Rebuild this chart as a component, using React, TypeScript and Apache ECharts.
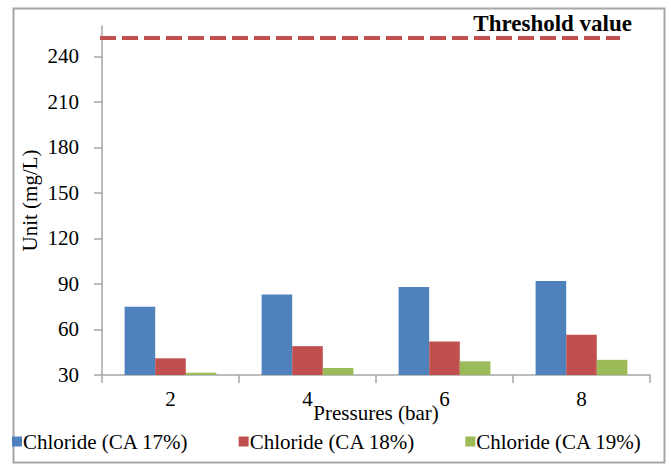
import React, { useEffect, useRef } from "react";
import * as echarts from "echarts";

// Pressure steps (bar) on the category axis
const pressures = ["2", "4", "6", "8"];

// Chloride concentration (mg/L) for each cellulose-acetate membrane
const chlorideCA17 = [75, 83, 88, 92];
const chlorideCA18 = [41, 49, 52, 56.5];
const chlorideCA19 = [31.5, 34.6, 39, 40];

const seriesNames = ["Chloride (CA 17%)", "Chloride (CA 18%)", "Chloride (CA 19%)"];
const seriesColors = ["#4F81BD", "#C0504D", "#9BBB59"];

// Permitted chloride limit (mg/L)
const thresholdValue = 252;
const thresholdLabel = "Threshold value";

// Value axis ticks
const yTicks = [30, 60, 90, 120, 150, 180, 210, 240];

const FONT = "'Liberation Serif', 'Times New Roman', serif";

export default function App() {
  const ref = useRef<HTMLDivElement>(null);

  useEffect(() => {
    if (!ref.current) return;
    const chart = echarts.init(ref.current, undefined, { renderer: "svg" });

    const seriesData = [chlorideCA17, chlorideCA18, chlorideCA19];

    const bars: any[] = seriesData.map((values, i) => ({
      name: seriesNames[i],
      type: "bar",
      data: values,
      barGap: "0%",
      barCategoryGap: "33%",
      itemStyle: { color: seriesColors[i] },
    }));

    // Dashed threshold line, drawn on the value scale
    bars[0].markLine = {
      silent: true,
      symbol: "none",
      label: { show: false },
      lineStyle: { color: "#C0504D", width: 4, type: [16, 6], opacity: 1 },
      emphasis: { disabled: true },
      data: [
        [
          { xAxis: pressures[0], yAxis: thresholdValue, x: 100 },
          { xAxis: pressures[0], yAxis: thresholdValue, x: 620 },
        ],
      ],
    };

    chart.setOption({
      animation: false,
      backgroundColor: "#ffffff",
      textStyle: { fontFamily: FONT },
      grid: { left: 102, right: 21, top: 26, bottom: 93 },
      legend: {
        data: seriesNames,
        left: 12,
        top: 431,
        padding: 0,
        icon: "rect",
        itemWidth: 10,
        itemHeight: 10,
        itemGap: 50,
        textStyle: { fontFamily: FONT, fontSize: 21, color: "#000", padding: [0, 0, 0, -4] },
      },
      xAxis: {
        type: "category",
        data: pressures,
        name: "Pressures (bar)",
        nameLocation: "middle",
        nameGap: 27,
        nameMoveOverlap: false,
        nameTextStyle: { fontFamily: FONT, fontSize: 21, color: "#000" },
        axisLine: { lineStyle: { color: "#a6a6a6", width: 1.5 } },
        axisTick: { show: true, length: 8, lineStyle: { color: "#a6a6a6", width: 1.5 } },
        axisLabel: { fontFamily: FONT, fontSize: 21, color: "#000", margin: 13 },
      },
      yAxis: {
        type: "value",
        min: 30,
        max: 260,
        interval: 30,
        name: "Unit (mg/L)",
        nameLocation: "middle",
        nameRotate: 90,
        nameGap: 62,
        nameMoveOverlap: false,
        nameTextStyle: { fontFamily: FONT, fontSize: 21, color: "#000" },
        axisLine: { show: true, lineStyle: { color: "#a6a6a6", width: 1.5 } },
        axisTick: {
          show: true,
          length: 8,
          customValues: yTicks,
          lineStyle: { color: "#a6a6a6", width: 1.5 },
        },
        axisLabel: {
          fontFamily: FONT,
          fontSize: 21,
          color: "#000",
          margin: 23,
          customValues: yTicks,
        },
        splitLine: { show: false },
      },
      graphic: [
        {
          type: "rect",
          left: 11,
          top: 6,
          shape: { width: 651, height: 454 },
          style: { fill: "none", stroke: "#a6a6a6", lineWidth: 2 },
          silent: true,
        },
        {
          type: "text",
          x: 632,
          y: 23,
          style: {
            text: thresholdLabel,
            font: `bold 23px ${FONT}`,
            fill: "#000",
            textAlign: "right",
            textVerticalAlign: "middle",
          },
          silent: true,
        },
      ],
      series: bars,
    });

    return () => chart.dispose();
  }, []);

  return (
    <div
      ref={ref}
      style={{ position: "fixed", left: 0, top: 0, width: 671, height: 468 }}
    />
  );
}
